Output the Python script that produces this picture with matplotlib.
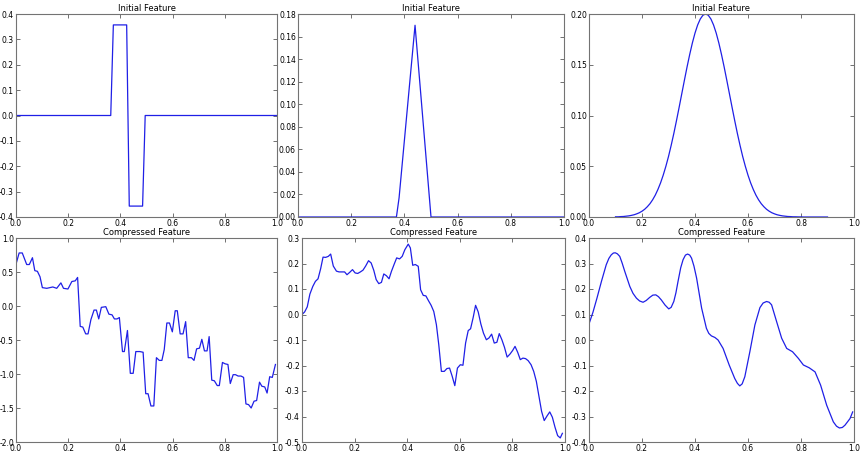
import numpy as np
import matplotlib
matplotlib.use('Agg')
import matplotlib.pyplot as plt

# Initial features (top row)
haar_x = [0.0, 0.363, 0.373, 0.424, 0.434, 0.485, 0.495, 1.0]
haar_y = [0.0, 0.0, 0.357, 0.357, -0.357, -0.357, 0.0, 0.0]

tri_x = [0.0, 0.37, 0.38, 0.44, 0.50, 1.0]
tri_y = [0.0, 0.0, 0.017, 0.17, 0.0, 0.0]

gauss_x = [round(0.10 + 0.01 * i, 2) for i in range(81)]
gauss_y = [0.0002, 0.0002, 0.0004, 0.0005, 0.0008, 0.0011, 0.0016, 0.0022, 0.0031, 0.0042,
           0.0057, 0.0076, 0.0101, 0.0131, 0.0169, 0.0215, 0.0271, 0.0336, 0.0412, 0.0499,
           0.0596, 0.0705, 0.0822, 0.0948, 0.1079, 0.1213, 0.1347, 0.1478, 0.1601, 0.1714,
           0.1812, 0.1892, 0.1951, 0.1988, 0.2000, 0.1988, 0.1951, 0.1892, 0.1812, 0.1714,
           0.1601, 0.1478, 0.1347, 0.1213, 0.1079, 0.0948, 0.0822, 0.0705, 0.0596, 0.0499,
           0.0412, 0.0336, 0.0271, 0.0215, 0.0169, 0.0131, 0.0101, 0.0076, 0.0057, 0.0042,
           0.0031, 0.0022, 0.0016, 0.0011, 0.0008, 0.0005, 0.0004, 0.0002, 0.0002, 0.0001,
           0.0001, 0.0, 0.0, 0.0, 0.0, 0.0, 0.0, 0.0, 0.0, 0.0,
           0.0]

# Compressed features (bottom row)
comp1_x = [0.0, 0.012, 0.024, 0.041, 0.051, 0.063, 0.072, 0.082, 0.092, 0.101,
           0.118, 0.141, 0.156, 0.172, 0.182, 0.199, 0.214, 0.227, 0.236, 0.246,
           0.256, 0.267, 0.276, 0.287, 0.299, 0.308, 0.317, 0.327, 0.344, 0.356,
           0.368, 0.377, 0.387, 0.396, 0.408, 0.415, 0.427, 0.438, 0.449, 0.459,
           0.474, 0.487, 0.497, 0.506, 0.517, 0.528, 0.538, 0.549, 0.559, 0.568,
           0.578, 0.588, 0.599, 0.610, 0.618, 0.629, 0.640, 0.650, 0.660, 0.672,
           0.682, 0.692, 0.703, 0.712, 0.722, 0.732, 0.740, 0.750, 0.760, 0.771,
           0.779, 0.791, 0.801, 0.812, 0.821, 0.832, 0.841, 0.851, 0.862, 0.872,
           0.881, 0.891, 0.901, 0.912, 0.922, 0.933, 0.942, 0.953, 0.962, 0.972,
           0.982, 0.994]
comp1_y = [0.615, 0.78, 0.78, 0.61, 0.61, 0.71, 0.52, 0.51, 0.43, 0.27,
           0.26, 0.28, 0.26, 0.34, 0.26, 0.25, 0.36, 0.37, 0.42, -0.30,
           -0.31, -0.41, -0.41, -0.20, -0.06, -0.06, -0.19, -0.02, -0.01, -0.12,
           -0.13, -0.19, -0.19, -0.17, -0.67, -0.67, -0.36, -0.99, -0.99, -0.67,
           -0.67, -0.68, -1.29, -1.29, -1.47, -1.47, -0.76, -0.80, -0.80, -0.64,
           -0.25, -0.25, -0.38, -0.07, -0.07, -0.41, -0.41, -0.23, -0.76, -0.76,
           -0.80, -0.63, -0.62, -0.49, -0.66, -0.66, -0.45, -1.09, -1.10, -1.17,
           -1.17, -0.83, -0.85, -0.86, -1.14, -1.01, -1.01, -1.03, -1.03, -1.05,
           -1.44, -1.45, -1.50, -1.40, -1.39, -1.12, -1.18, -1.19, -1.28, -1.04,
           -1.05, -0.86]

comp2_x = [0.0, 0.010, 0.020, 0.030, 0.041, 0.051, 0.061, 0.071, 0.080, 0.090,
           0.100, 0.109, 0.119, 0.131, 0.141, 0.152, 0.162, 0.171, 0.181, 0.192,
           0.202, 0.212, 0.222, 0.232, 0.242, 0.253, 0.263, 0.273, 0.282, 0.292,
           0.302, 0.311, 0.321, 0.331, 0.340, 0.350, 0.360, 0.371, 0.381, 0.391,
           0.404, 0.412, 0.421, 0.431, 0.442, 0.451, 0.461, 0.471, 0.481, 0.491,
           0.501, 0.511, 0.520, 0.530, 0.541, 0.551, 0.561, 0.571, 0.581, 0.591,
           0.602, 0.612, 0.622, 0.632, 0.641, 0.651, 0.660, 0.670, 0.680, 0.690,
           0.701, 0.711, 0.721, 0.731, 0.741, 0.750, 0.760, 0.770, 0.780, 0.791,
           0.801, 0.810, 0.820, 0.830, 0.840, 0.850, 0.860, 0.871, 0.881, 0.891,
           0.901, 0.911, 0.921, 0.931, 0.942, 0.952, 0.962, 0.972, 0.982, 0.990]
comp2_y = [0.0, 0.01, 0.03, 0.08, 0.11, 0.13, 0.14, 0.18, 0.225, 0.224,
           0.228, 0.237, 0.19, 0.17, 0.167, 0.167, 0.167, 0.156, 0.165, 0.176,
           0.163, 0.161, 0.167, 0.174, 0.19, 0.211, 0.202, 0.173, 0.137, 0.121,
           0.126, 0.159, 0.152, 0.140, 0.169, 0.196, 0.222, 0.218, 0.228, 0.254,
           0.276, 0.261, 0.193, 0.196, 0.189, 0.097, 0.075, 0.073, 0.054, 0.036,
           0.012, -0.04, -0.118, -0.223, -0.223, -0.212, -0.21, -0.242, -0.279, -0.21,
           -0.197, -0.199, -0.112, -0.063, -0.056, -0.011, 0.036, 0.01, -0.037, -0.073,
           -0.099, -0.092, -0.077, -0.112, -0.109, -0.075, -0.099, -0.129, -0.167, -0.155,
           -0.141, -0.125, -0.148, -0.177, -0.171, -0.173, -0.181, -0.197, -0.223, -0.262,
           -0.321, -0.380, -0.416, -0.399, -0.382, -0.403, -0.442, -0.475, -0.484, -0.466]

comp3_x = [0.0, 0.015, 0.030, 0.047, 0.065, 0.075, 0.084, 0.092, 0.099, 0.107,
           0.116, 0.125, 0.135, 0.154, 0.166, 0.179, 0.191, 0.204, 0.216, 0.229,
           0.241, 0.252, 0.262, 0.273, 0.287, 0.301, 0.310, 0.320, 0.328, 0.336,
           0.346, 0.355, 0.364, 0.372, 0.380, 0.387, 0.396, 0.406, 0.425, 0.443,
           0.452, 0.462, 0.475, 0.487, 0.506, 0.529, 0.550, 0.560, 0.569, 0.578,
           0.588, 0.607, 0.626, 0.645, 0.657, 0.670, 0.680, 0.689, 0.708, 0.727,
           0.746, 0.768, 0.790, 0.809, 0.831, 0.853, 0.874, 0.897, 0.922, 0.934,
           0.945, 0.956, 0.966, 0.985, 0.995]
comp3_y = [0.063, 0.109, 0.164, 0.230, 0.295, 0.320, 0.334, 0.341, 0.342, 0.338,
           0.328, 0.302, 0.269, 0.210, 0.183, 0.164, 0.153, 0.148, 0.155, 0.167,
           0.176, 0.177, 0.170, 0.157, 0.137, 0.122, 0.128, 0.151, 0.185, 0.230,
           0.283, 0.315, 0.333, 0.337, 0.333, 0.321, 0.290, 0.243, 0.125, 0.046,
           0.026, 0.016, 0.010, 0.0, -0.033, -0.098, -0.151, -0.170, -0.180, -0.172,
           -0.144, -0.046, 0.059, 0.127, 0.145, 0.151, 0.148, 0.138, 0.072, 0.007,
           -0.033, -0.046, -0.072, -0.098, -0.109, -0.125, -0.177, -0.256, -0.321, -0.338,
           -0.345, -0.343, -0.334, -0.308, -0.282]

titles = ['Initial Feature'] * 3 + ['Compressed Feature'] * 3
series = [(haar_x, haar_y), (tri_x, tri_y), (gauss_x, gauss_y),
          (comp1_x, comp1_y), (comp2_x, comp2_y), (comp3_x, comp3_y)]
ylims = [(-0.4, 0.4), (0.0, 0.18), (0.0, 0.2), (-2.0, 1.0), (-0.5, 0.3), (-0.4, 0.4)]
ysteps = [0.1, 0.02, 0.05, 0.5, 0.1, 0.1]
ydecimals = [1, 2, 2, 1, 1, 1]

# axes boxes in pixels: left, right, top, bottom
W, H = 868, 462
boxes = [(16, 277, 14, 217), (298, 564, 14, 217), (589, 854, 14, 217),
         (16, 277, 238, 442), (302, 565, 238, 442), (589, 854, 238, 442)]

plt.rcParams['axes.unicode_minus'] = False
plt.rcParams['font.family'] = 'DejaVu Sans'

fig = plt.figure(figsize=(W / 100, H / 100), dpi=100)
fig.patch.set_facecolor('white')

xt = [0.0, 0.2, 0.4, 0.6, 0.8, 1.0]
for (l, r, t, b), (x, y), title, ylim, ystep, nd in zip(
        boxes, series, titles, ylims, ysteps, ydecimals):
    ax = fig.add_axes([l / W, 1 - b / H, (r - l) / W, (b - t) / H])
    ax.plot(x, y, color='#1f1fe6', lw=0.9)
    ax.set_xlim(0, 1)
    ax.set_ylim(*ylim)
    ax.set_xticks(xt)
    ax.set_xticklabels(['%.1f' % v for v in xt])
    nt = int(round((ylim[1] - ylim[0]) / ystep)) + 1
    yt = [round(ylim[0] + i * ystep, nd) for i in range(nt)]
    ax.set_yticks(yt)
    ax.set_yticklabels(['%.*f' % (nd, v if v != 0 else 0.0) for v in yt])
    ax.tick_params(direction='in', top=True, right=True, length=3, width=0.6,
                   color='0.35', labelsize=5.5, pad=1.5)
    for sp in ax.spines.values():
        sp.set_color('0.45')
        sp.set_linewidth(0.8)
    ax.set_title(title, fontsize=6, pad=2)

fig.savefig('out.png', dpi=100, facecolor='white')
